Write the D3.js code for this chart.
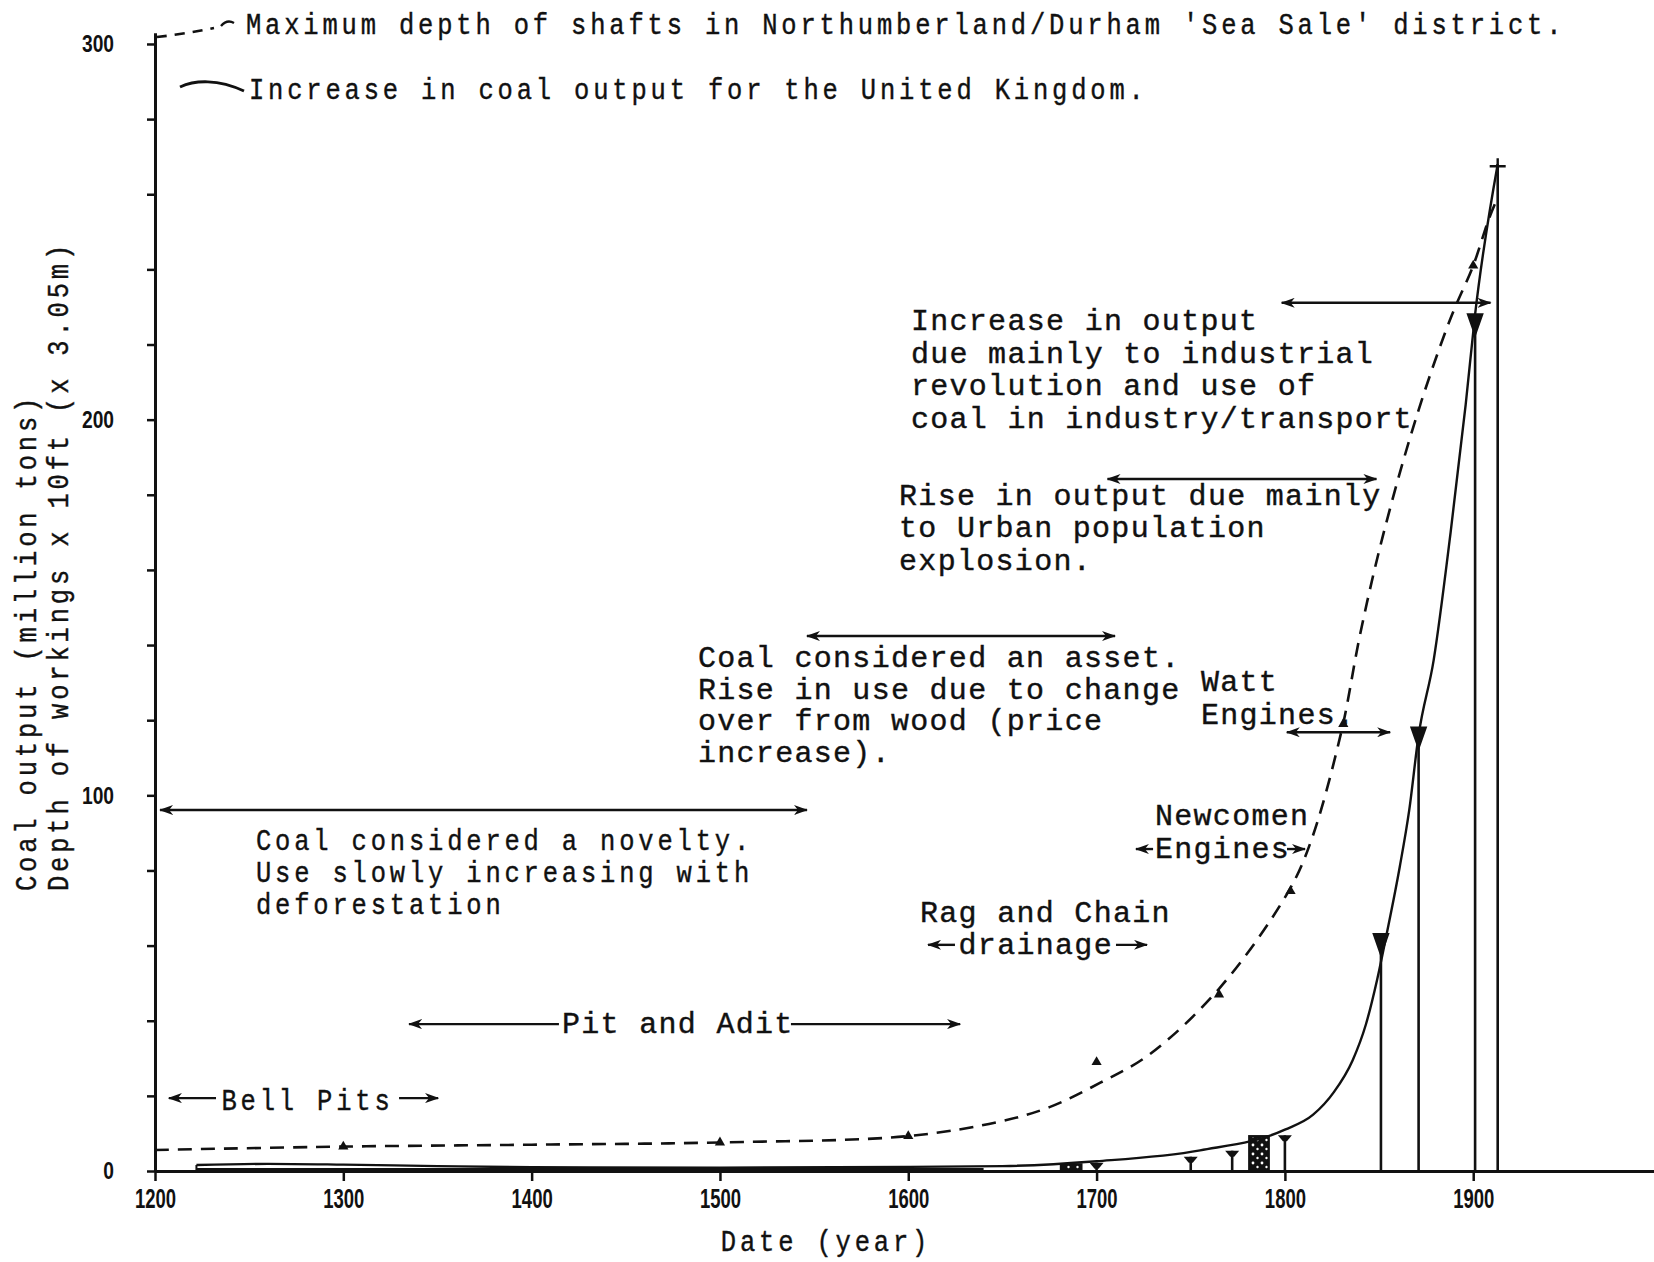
<!DOCTYPE html>
<meta charset="utf-8">
<style>
  body { margin: 0; background: #fff; }
  svg { display: block; }
  .wide { font-family: 'Liberation Mono', 'Courier New', monospace; font-size: 30px; letter-spacing: 1.3px;
          fill: #111; stroke: #111; stroke-width: 0.4px; white-space: pre; }
  .cond { font-family: 'Liberation Mono', 'Courier New', monospace; font-size: 30px; letter-spacing: 4.5px;
          fill: #111; stroke: #111; stroke-width: 0.4px; white-space: pre; }
  .axis path, .axis line { stroke: #111; }
  .axis path { stroke-width: 3px; }
  .axis line { stroke-width: 2.5px; }
  .axis text { font-family: 'Liberation Sans', Arial, sans-serif; font-weight: bold; fill: #111; }
  .output { fill: none; stroke: #111; stroke-width: 2.4px; }
  .depth { fill: none; stroke: #111; stroke-width: 2.6px; stroke-dasharray: 14 9; }
  .bar { stroke: #111; stroke-width: 2.6px; }
  .arrow { stroke: #111; stroke-width: 2.4px; }
</style>
<body>
<div id="chart"></div>
<script src="https://d3js.org/d3.v7.min.js"></script>
<script>
var width = 1654, height = 1262;

// coal output for the UK (million tons)
var outputYears  = [1222, 1260, 1300, 1350, 1400, 1500, 1600, 1650, 1700, 1755, 1800, 1815, 1826, 1836, 1843, 1849, 1854, 1861, 1866, 1871, 1879, 1888, 1896, 1901, 1913];
var outputValues = [1.6, 1.9, 1.7, 1.3, 1.0, 0.9, 1.1, 1.3, 2.6, 5.5, 11, 15, 21, 29.5, 39, 51, 63, 81, 96, 116, 136, 170, 204, 228, 268];

// max depth of shafts, Northumberland/Durham (x 10ft), dashed curve
var depthYears  = [1200, 1300, 1400, 1500, 1600, 1649, 1675, 1702, 1728, 1765, 1802, 1814, 1830, 1840, 1852, 1870, 1888, 1900, 1908, 1912];
var depthValues = [5.6, 6.5, 7.0, 7.6, 9.3, 13.2, 17, 23.5, 31, 48.5, 74.5, 88, 117, 143, 169, 201, 227, 241, 253, 258];

// plotted points on the dashed curve
var depthMarkYears  = [1300, 1500, 1600, 1700, 1765, 1803, 1831, 1900];
var depthMarkValues = [6.5, 7.6, 9.3, 29, 47, 74.5, 119, 241];

// small capped bars near the axis
var capYears  = [1700, 1750, 1772, 1800];
var capValues = [2.2, 3.8, 5.4, 9.5];

// speckled blocks
var blockStarts = [1681, 1781];
var blockEnds   = [1692, 1791.5];
var blockValues = [1.8, 9.3];

// tall bars
var barYears  = [1851, 1871, 1901, 1913];
var barValues = [63, 118, 228, 268];

var xTicks = [1200, 1300, 1400, 1500, 1600, 1700, 1800, 1900];
var yTicks = [0, 20, 40, 60, 80, 100, 120, 140, 160, 180, 200, 220, 240, 260, 280, 300];
var yLabels = [0, 100, 200, 300];

var legendDepth  = "Maximum depth of shafts in Northumberland/Durham 'Sea Sale' district.";
var legendOutput = "Increase in coal output for the United Kingdom.";

// text notes: anchor is year / value of first baseline
var notes = [
  { font: "cond", year: 1253.6, value: 85.4, lh: 32,
    lines: ["Coal considered a novelty.", "Use slowly increasing with", "deforestation"] },
  { font: "wide", year: 1488.3, value: 134.1, lh: 31.5,
    lines: ["Coal considered an asset.", "Rise in use due to change", "over from wood (price", "increase)."] },
  { font: "wide", year: 1595.1, value: 177.3, lh: 32.5,
    lines: ["Rise in output due mainly", "to Urban population", "explosion."] },
  { font: "wide", year: 1601.4, value: 223.8, lh: 32.5,
    lines: ["Increase in output", "due mainly to industrial", "revolution and use of", "coal in industry/transport"] },
  { font: "wide", year: 1755.4, value: 127.8, lh: 33, lines: ["Watt", "Engines."] },
  { font: "wide", year: 1731, value: 92.1, lh: 33, lines: ["Newcomen", "Engines"] },
  { font: "wide", year: 1606.2, value: 66.3, lh: 32, lines: ["Rag and Chain", "  drainage"] },
  { font: "cond", year: 1235.3, value: 16.2, lh: 32, lines: ["Bell Pits"] },
  { font: "wide", year: 1416.1, value: 36.7, lh: 32, lines: ["Pit and Adit"] }
];

// arrows: from year, to year, at value, which ends get a head
var arrows = [
  { from: 1202.7, to: 1546.2, value: 96.1, heads: "both" },
  { from: 1546.2, to: 1709.8, value: 142.4, heads: "both" },
  { from: 1705.8, to: 1848.6, value: 184.2, heads: "both" },
  { from: 1798.3, to: 1909.2, value: 231.1, heads: "both" },
  { from: 1801.0, to: 1855.9, value: 116.8, heads: "both" },
  { from: 1207.4, to: 1232.4, value: 19.4, heads: "start" },
  { from: 1329.6, to: 1350.3, value: 19.4, heads: "end" },
  { from: 1334.9, to: 1414.5, value: 39.1, heads: "start" },
  { from: 1537.7, to: 1627.5, value: 39.1, heads: "end" },
  { from: 1720.9, to: 1730.0, value: 85.7, heads: "start" },
  { from: 1801.1, to: 1810.7, value: 85.7, heads: "end" },
  { from: 1610.5, to: 1624.8, value: 60.2, heads: "start" },
  { from: 1710.3, to: 1726.8, value: 60.2, heads: "end" }
];

var x = d3.scaleLinear().domain([1200, 1996]).range([155, 1654]);
var y = d3.scaleLinear().domain([0, 303]).range([1171, 32.7]);
var condScale = "scale(0.85,1)";

var svg = d3.select("#chart").append("svg")
    .attr("width", width)
    .attr("height", height);

var defs = svg.append("defs");
defs.append("marker")
    .attr("id", "head")
    .attr("viewBox", "0 0 14 10")
    .attr("refX", 13).attr("refY", 5)
    .attr("markerWidth", 14).attr("markerHeight", 10)
    .attr("markerUnits", "userSpaceOnUse")
    .attr("orient", "auto-start-reverse")
  .append("path")
    .attr("d", "M0,0 L14,5 L0,10 L4,5 z")
    .attr("fill", "#111");

var pat = defs.append("pattern")
    .attr("id", "speckle")
    .attr("patternUnits", "userSpaceOnUse")
    .attr("width", 9).attr("height", 9);
pat.append("rect").attr("width", 9).attr("height", 9).attr("fill", "#111");
pat.append("circle").attr("cx", 2).attr("cy", 2).attr("r", 1.4).attr("fill", "#fff");
pat.append("circle").attr("cx", 6.5).attr("cy", 6).attr("r", 1.2).attr("fill", "#fff");

// axes
var xAxis = svg.append("g")
    .attr("class", "axis")
    .attr("transform", "translate(0," + y(0) + ")")
    .call(d3.axisBottom(x).tickValues(xTicks).tickSize(10).tickSizeOuter(0).tickPadding(7).tickFormat(d3.format("d")));
xAxis.selectAll("text")
    .style("font-size", "28px")
    .attr("transform", "scale(0.66,1)");

var yAxis = svg.append("g")
    .attr("class", "axis")
    .attr("transform", "translate(" + x(1200) + ",0)")
    .call(d3.axisLeft(y).tickValues(yTicks).tickSize(8).tickSizeOuter(0)
        .tickFormat(function(d) { return yLabels.indexOf(d) >= 0 ? d : ""; }));
yAxis.selectAll("text")
    .style("font-size", "24px")
    .attr("x", -41 / 0.8)
    .attr("transform", "scale(0.8,1)");

// early band along the axis
svg.append("line")
    .attr("class", "bar")
    .attr("x1", x(outputYears[0])).attr("x2", x(1640))
    .attr("y1", y(0.5)).attr("y2", y(0.5))
    .style("stroke-width", "2px");
svg.append("line")
    .attr("class", "bar")
    .attr("x1", x(outputYears[0])).attr("x2", x(outputYears[0]))
    .attr("y1", y(0)).attr("y2", y(outputValues[0]))
    .style("stroke-width", "2px");

// speckled blocks
svg.selectAll(".block")
    .data(blockValues)
    .enter().append("rect")
    .attr("class", "block")
    .attr("x", function(d, i) { return x(blockStarts[i]); })
    .attr("width", function(d, i) { return x(blockEnds[i]) - x(blockStarts[i]); })
    .attr("y", function(d) { return y(d); })
    .attr("height", function(d) { return y(0) - y(d); })
    .attr("fill", "url(#speckle)")
    .attr("stroke", "#111")
    .attr("stroke-width", 2);

// capped bars
var caps = svg.selectAll(".cap")
    .data(capValues)
    .enter().append("g")
    .attr("class", "cap")
    .attr("transform", function(d, i) { return "translate(" + x(capYears[i]) + ",0)"; });
caps.append("line")
    .attr("class", "bar")
    .attr("y1", y(0))
    .attr("y2", function(d) { return y(d); });
caps.append("path")
    .attr("d", function(d) { var t = y(d); return "M-7," + t + " L7," + t + " L2," + (t + 6) + " L-2," + (t + 6) + " z"; })
    .attr("fill", "#111");

// tall bars
var bars = svg.selectAll(".tall")
    .data(barValues)
    .enter().append("g")
    .attr("class", "tall")
    .attr("transform", function(d, i) { return "translate(" + x(barYears[i]) + ",0)"; });
bars.append("line")
    .attr("class", "bar")
    .attr("y1", y(0))
    .attr("y2", function(d) { return y(d); });
bars.append("path")
    .attr("d", function(d, i) {
        var t = y(d);
        if (i == barValues.length - 1) return "M-8," + (t + 2) + " L8," + (t + 2) + " M0," + (t - 6) + " L0," + (t + 10);
        return "M-7," + t + " L7," + t + " L0," + (t + 20) + " z";
    })
    .attr("fill", "#111")
    .attr("stroke", "#111")
    .attr("stroke-width", 2.4);

// curves
var line = d3.line()
    .x(function(d) { return x(d[0]); })
    .y(function(d) { return y(d[1]); })
    .curve(d3.curveCatmullRom.alpha(0.5));

svg.append("path")
    .datum(d3.zip(depthYears, depthValues))
    .attr("class", "depth")
    .attr("d", line);

svg.append("path")
    .datum(d3.zip(outputYears, outputValues))
    .attr("class", "output")
    .attr("d", line.curve(d3.curveMonotoneX));

svg.selectAll(".mark")
    .data(depthMarkValues)
    .enter().append("path")
    .attr("class", "mark")
    .attr("transform", function(d, i) { return "translate(" + x(depthMarkYears[i]) + "," + y(d) + ")"; })
    .attr("d", d3.symbol().type(d3.symbolTriangle).size(45))
    .attr("fill", "#111");

// arrows
svg.selectAll(".arrow")
    .data(arrows)
    .enter().append("line")
    .attr("class", "arrow")
    .attr("x1", function(d) { return x(d.from); })
    .attr("x2", function(d) { return x(d.to); })
    .attr("y1", function(d) { return y(d.value); })
    .attr("y2", function(d) { return y(d.value); })
    .attr("marker-start", function(d) { return d.heads != "end" ? "url(#head)" : null; })
    .attr("marker-end", function(d) { return d.heads != "start" ? "url(#head)" : null; });

// notes
notes.forEach(function(b) {
    var g = svg.append("g")
        .attr("transform", "translate(" + x(b.year) + "," + y(b.value) + ")");
    var t = g.append("text").attr("class", b.font);
    if (b.font == "cond") t.attr("transform", condScale);
    t.selectAll("tspan")
        .data(b.lines)
        .enter().append("tspan")
        .attr("x", 0)
        .attr("y", function(d, i) { return i * b.lh; })
        .text(function(d) { return d; });
});

// legend
svg.append("path")
    .attr("d", "M157,37 C175,35 195,32 214,28")
    .attr("class", "depth")
    .style("stroke-dasharray", "10 8");
svg.append("path")
    .attr("d", "M221,26 Q227,19 234,23")
    .attr("fill", "none").attr("stroke", "#111").attr("stroke-width", 2.4);
svg.append("path")
    .attr("d", "M180,87 C195,80 218,79 244,91")
    .attr("class", "output")
    .style("stroke-width", "3px");

svg.append("g").attr("transform", "translate(246,34)")
  .append("text").attr("class", "cond").attr("transform", condScale).text(legendDepth);
svg.append("g").attr("transform", "translate(249,99)")
  .append("text").attr("class", "cond").attr("transform", condScale).text(legendOutput);

// axis titles
svg.append("g").attr("transform", "translate(826,1251)")
  .append("text").attr("class", "cond").attr("transform", condScale)
    .attr("text-anchor", "middle").text("Date (year)");

svg.append("g").attr("transform", "translate(36,891) rotate(-90)")
  .append("text").attr("class", "cond").attr("transform", condScale)
    .text("Coal output (million tons)");
svg.append("g").attr("transform", "translate(68,891) rotate(-90)")
  .append("text").attr("class", "cond").attr("transform", condScale)
    .text("Depth of workings x 10ft (x 3.05m)");
</script>
</body>
